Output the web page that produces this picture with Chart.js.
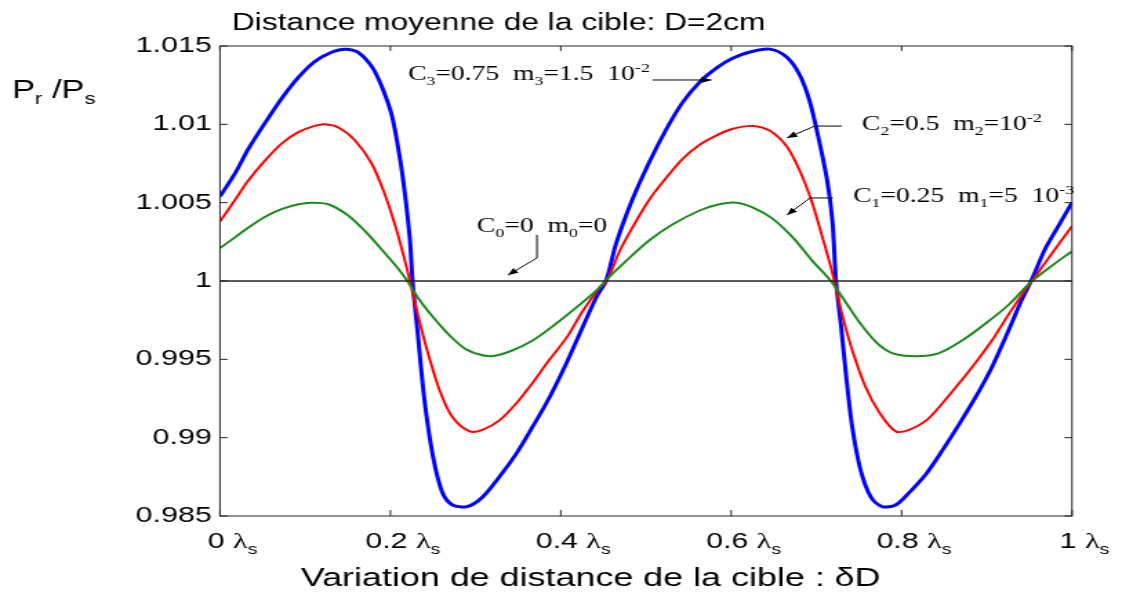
<!DOCTYPE html>
<html>
<head>
<meta charset="utf-8">
<script src="https://cdn.jsdelivr.net/npm/chart.js@4.4.0/dist/chart.umd.min.js"></script>
<style>
  html, body { margin: 0; padding: 0; background: #fff; }
  #frame { width: 1122px; height: 592px; overflow: hidden; }
  /* the figure is drawn narrow, then widened like the original export */
  #wrap { width: 813px; height: 592px; transform: scaleX(1.38); transform-origin: 0 0; }
</style>
</head>
<body>
<div id="frame"><div id="wrap"><canvas id="c"></canvas></div></div>
<script>
// ---- axes ----
const xTicks = [0, 0.2, 0.4, 0.6, 0.8, 1];
const xTickLabels = ['0', '0.2', '0.4', '0.6', '0.8', '1'];
const yTicks = [0.985, 0.99, 0.995, 1, 1.005, 1.01, 1.015];
const yTickLabels = ['0.985', '0.99', '0.995', '1', '1.005', '1.01', '1.015'];

// ---- C3 = 0.75, m3 = 1.5e-2 (blue) ----
const xC3 = [0, 0.018, 0.033, 0.053, 0.073, 0.092, 0.111, 0.131, 0.147, 0.162, 0.178, 0.190, 0.202, 0.211, 0.217, 0.223,
  0.226, 0.232, 0.240, 0.250, 0.261, 0.273, 0.290, 0.308, 0.328, 0.348, 0.367, 0.387, 0.407, 0.426, 0.442, 0.453,
  0.465, 0.484, 0.504, 0.524, 0.543, 0.563, 0.583, 0.601, 0.621, 0.645, 0.665, 0.680, 0.692, 0.703, 0.713, 0.719, 0.723,
  0.729, 0.735, 0.742, 0.752, 0.764, 0.777, 0.793, 0.809, 0.829, 0.848, 0.868, 0.887, 0.906, 0.926, 0.941, 0.952,
  0.969, 0.985, 1.0];
const yC3 = [1.0054, 1.0069, 1.0084, 1.0101, 1.0117, 1.0130, 1.0140, 1.0146, 1.0148, 1.0146, 1.0137, 1.0124, 1.0105, 1.0079, 1.0056, 1.0026,
  1.0000, 0.9967, 0.9924, 0.9888, 0.9865, 0.9857, 0.9856, 0.9862, 0.9875, 0.9890, 0.9907, 0.9926, 0.9948, 0.9971, 0.9990, 1.0000,
  1.0024, 1.0052, 1.0076, 1.0097, 1.0114, 1.0127, 1.0136, 1.0142, 1.0146, 1.0148, 1.0143, 1.0132, 1.0115, 1.0090, 1.0063, 1.0037, 1.0000,
  0.9971, 0.9939, 0.9907, 0.9879, 0.9862, 0.9856, 0.9857, 0.9865, 0.9877, 0.9892, 0.9909, 0.9926, 0.9945, 0.9969, 0.9988, 1.0000,
  1.0021, 1.0036, 1.0050];

// ---- C2 = 0.5, m2 = 1e-2 (red) ----
const xC2 = [0, 0.018, 0.033, 0.053, 0.073, 0.092, 0.111, 0.123, 0.139, 0.158, 0.178, 0.193, 0.207, 0.217, 0.223,
  0.231, 0.243, 0.258, 0.273, 0.293, 0.308, 0.328, 0.348, 0.367, 0.387, 0.407, 0.426, 0.446, 0.454,
  0.469, 0.484, 0.504, 0.524, 0.543, 0.563, 0.583, 0.601, 0.625, 0.645, 0.665, 0.680, 0.695, 0.707, 0.717, 0.721,
  0.730, 0.742, 0.758, 0.774, 0.793, 0.809, 0.829, 0.848, 0.868, 0.887, 0.906, 0.926, 0.946, 0.953, 0.973, 1.0];
const yC2 = [1.0038, 1.0052, 1.0064, 1.0077, 1.0088, 1.0095, 1.0099, 1.0100, 1.0098, 1.0090, 1.0075, 1.0056, 1.0033, 1.0013, 1.0000,
  0.9981, 0.9956, 0.9930, 0.9913, 0.9904, 0.9905, 0.9911, 0.9922, 0.9935, 0.9950, 0.9964, 0.9981, 0.9996, 1.0000,
  1.0019, 1.0034, 1.0052, 1.0066, 1.0078, 1.0087, 1.0093, 1.0097, 1.0099, 1.0096, 1.0086, 1.0071, 1.0050, 1.0028, 1.0009, 1.0000,
  0.9979, 0.9956, 0.9932, 0.9916, 0.9904, 0.9905, 0.9911, 0.9922, 0.9935, 0.9948, 0.9962, 0.9979, 0.9995, 1.0000, 1.0015, 1.0035];

// ---- C1 = 0.25, m1 = 5e-3 (green) ----
const xC1 = [0, 0.018, 0.033, 0.053, 0.073, 0.092, 0.108, 0.127, 0.150, 0.170, 0.190, 0.209, 0.220,
  0.234, 0.250, 0.270, 0.290, 0.317, 0.340, 0.367, 0.395, 0.418, 0.442, 0.452,
  0.477, 0.504, 0.531, 0.563, 0.586, 0.606, 0.625, 0.648, 0.672, 0.695, 0.717,
  0.735, 0.750, 0.770, 0.789, 0.817, 0.844, 0.871, 0.899, 0.926, 0.951, 0.977, 1.0];
const yC1 = [1.0021, 1.0028, 1.0034, 1.0041, 1.0046, 1.0049, 1.0050, 1.0049, 1.0042, 1.0032, 1.0020, 1.0008, 1.0000,
  0.9988, 0.9977, 0.9965, 0.9956, 0.9952, 0.9955, 0.9962, 0.9973, 0.9983, 0.9994, 1.0000,
  1.0013, 1.0026, 1.0036, 1.0045, 1.0049, 1.0050, 1.0047, 1.0040, 1.0028, 1.0013, 1.0000,
  0.9986, 0.9974, 0.9961, 0.9954, 0.9952, 0.9954, 0.9962, 0.9973, 0.9985, 0.9999, 1.0010, 1.0019];

// ---- C0 = 0, m0 = 0 (reference level) ----
const xC0 = [0, 1];
const yC0 = [1, 1];

const pts = (xs, ys) => xs.map((x, i) => ({ x: x, y: ys[i] }));

// labels with arrows, anchored in data units
const notes = [
  { at: [0.2207, 1.01328], parts: [['C'], ['3', 'sub'], ['=0.75  m'], ['3', 'sub'], ['=1.5  10'], ['-2', 'sup']],
    arrow: [[0.508, 1.01283], [0.577, 1.01283]] },
  { at: [0.7535, 1.01008], parts: [['C'], ['2', 'sub'], ['=0.5  m'], ['2', 'sub'], ['=10'], ['-2', 'sup']],
    arrow: [[0.730, 1.00989], [0.698, 1.00989], [0.6655, 1.00913]] },
  { at: [0.743, 1.00549], parts: [['C'], ['1', 'sub'], ['=0.25  m'], ['1', 'sub'], ['=5  10'], ['-3', 'sup']],
    arrow: [[0.7195, 1.0053], [0.6925, 1.0053], [0.6655, 1.00421]] },
  { at: [0.3016, 1.00357], parts: [['C'], ['0', 'sub'], ['=0  m'], ['0', 'sub'], ['=0']],
    arrow: [[0.372, 1.00294], [0.372, 1.00147], [0.338, 1.00038]] }
];

const SANS = '"Liberation Sans", Arial, sans-serif';
const SERIF = '"Liberation Serif", "Times New Roman", serif';

// draws text with sub/superscript pieces, returns its width
function richText(ctx, x, y, parts, size, family, dryRun) {
  let cx = x;
  parts.forEach(([t, mode, fam]) => {
    const s = mode ? Math.round(size * 0.65) : size;
    const dy = mode === 'sub' ? size * 0.25 : (mode === 'sup' ? -size * 0.4 : 0);
    ctx.font = s + 'px ' + (fam || family);
    if (!dryRun) ctx.fillText(t, cx, y + dy);
    cx += ctx.measureText(t).width;
  });
  return cx - x;
}

function arrowHead(ctx, x0, y0, x1, y1) {
  const ang = Math.atan2(y1 - y0, x1 - x0);
  const len = 8, half = 0.38;
  ctx.beginPath();
  ctx.moveTo(x1, y1);
  ctx.lineTo(x1 - len * Math.cos(ang - half), y1 - len * Math.sin(ang - half));
  ctx.lineTo(x1 - len * Math.cos(ang + half), y1 - len * Math.sin(ang + half));
  ctx.closePath();
  ctx.fill();
}

const decor = {
  id: 'decor',
  afterDatasetsDraw(chart) {
    const { ctx, chartArea: a, scales: { x, y } } = chart;
    ctx.save();

    // box and inward ticks
    ctx.strokeStyle = '#222';
    ctx.lineWidth = 1;
    ctx.strokeRect(a.left, a.top, a.right - a.left, a.bottom - a.top);
    ctx.beginPath();
    xTicks.forEach(v => {
      const px = x.getPixelForValue(v);
      ctx.moveTo(px, a.bottom); ctx.lineTo(px, a.bottom - 6);
      ctx.moveTo(px, a.top); ctx.lineTo(px, a.top + 5);
    });
    yTicks.forEach(v => {
      const py = y.getPixelForValue(v);
      ctx.moveTo(a.left, py); ctx.lineTo(a.left + 5.5, py);
      ctx.moveTo(a.right, py); ctx.lineTo(a.right - 5.5, py);
    });
    ctx.stroke();

    ctx.fillStyle = '#000';
    ctx.textBaseline = 'alphabetic';
    ctx.textAlign = 'left';

    // x tick labels: "0.2 λs"
    xTicks.forEach((v, i) => {
      const parts = [[xTickLabels[i] + ' '], ['λ', null, SERIF], ['s', 'sub']];
      const w = richText(ctx, 0, 0, parts, 22, SANS, true);
      const cx = x.getPixelForValue(v) + 9;
      richText(ctx, cx - w / 2, 548, parts, 22, SANS);
    });

    // titles
    ctx.font = '23px ' + SANS;
    ctx.fillText('Distance moyenne de la cible: D=2cm', 168, 30);
    ctx.font = '26px ' + SANS;
    ctx.fillText('Variation de distance de la cible : δD', 218, 586);
    richText(ctx, 8.7, 98, [['P'], ['r', 'sub'], [' /'], ['P'], ['s', 'sub']], 25, SANS);

    // curve labels and arrows
    ctx.strokeStyle = '#000';
    ctx.lineWidth = 1;
    notes.forEach(n => {
      richText(ctx, x.getPixelForValue(n.at[0]), y.getPixelForValue(n.at[1]) + 7, n.parts, 20, SERIF);
      const p = n.arrow.map(([vx, vy]) => [x.getPixelForValue(vx), y.getPixelForValue(vy)]);
      ctx.beginPath();
      ctx.moveTo(p[0][0], p[0][1]);
      for (let i = 1; i < p.length; i++) ctx.lineTo(p[i][0], p[i][1]);
      ctx.stroke();
      const k = p.length - 1;
      arrowHead(ctx, p[k - 1][0], p[k - 1][1], p[k][0], p[k][1]);
    });

    ctx.restore();
  }
};

const line = (data, color, width) => ({
  data: data,
  borderColor: color,
  borderWidth: width,
  pointRadius: 0,
  fill: false,
  tension: 0.3
});

new Chart(document.getElementById('c'), {
  type: 'line',
  data: {
    datasets: [
      line(pts(xC0, yC0), '#2a2222', 1.5),
      line(pts(xC1, yC1), '#1c8a1c', 2),
      line(pts(xC2, yC2), '#ff0000', 2),
      line(pts(xC3, yC3), '#0000ff', 3)
    ]
  },
  options: {
    responsive: true,
    maintainAspectRatio: false,
    animation: false,
    layout: { padding: { left: 0, top: 46, right: 36.2, bottom: 0 } },
    plugins: { legend: { display: false }, tooltip: { enabled: false } },
    scales: {
      x: {
        type: 'linear', min: 0, max: 1,
        grid: { display: false }, border: { display: false },
        ticks: { display: false },
        afterBuildTicks: s => { s.ticks = xTicks.map(v => ({ value: v })); },
        afterFit: s => { s.height = 76; }
      },
      y: {
        type: 'linear', min: 0.985, max: 1.015,
        grid: { display: false, drawTicks: false }, border: { display: false },
        ticks: {
          autoSkip: false, padding: 6, color: '#000',
          font: { family: SANS, size: 22 },
          callback: (v, i) => yTickLabels[i]
        },
        afterBuildTicks: s => { s.ticks = yTicks.map(v => ({ value: v })); },
        afterFit: s => { s.width = 159.4; }
      }
    }
  },
  plugins: [decor]
});
</script>
</body>
</html>
